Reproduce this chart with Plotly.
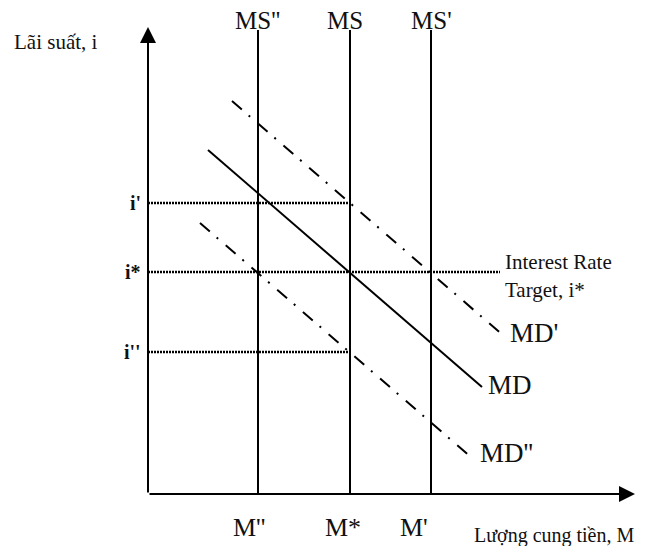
import plotly.graph_objects as go

# ---- data (diagram units) ----
ms_names = ["MS''", "MS", "MS'"]
ms_values = [11.0, 20.2, 28.3]          # money supply positions
m_labels = ["M''", "M*", "M'"]
m_label_shift = [-9, -7, -17]

rate_names = ["i'", "i*", "i''"]
rate_values = [29.1, 22.2, 14.2]
rate_line_end = [20.2, 35.2, 20.2]

md_names = ["MD'", "MD", "MD''"]
md_x = [[8.4, 35.7], [6.0, 33.4], [5.2, 32.4]]
md_y = [[39.3, 15.7], [34.4, 10.7], [27.1, 3.6]]
md_dash = ["13px,9px,2px,10px", "solid", "13px,9px,2px,10px"]
md_label_pos = [(36.0, 16.1), (33.8, 10.9), (33.0, 4.1)]

ms_top = 46.4
y_axis_top = 46.7
x_axis_end = 48.7

FONT = "Liberation Serif, Times New Roman, serif"
INK = "#111111"

fig = go.Figure()

# money supply (vertical)
for name, v in zip(ms_names, ms_values):
    fig.add_trace(go.Scatter(x=[v, v], y=[0, ms_top], mode="lines",
                             line=dict(color="black", width=2), name=name,
                             hoverinfo="skip"))

# interest rate dotted lines
for name, r, e in zip(rate_names, rate_values, rate_line_end):
    fig.add_trace(go.Scatter(x=[0, e], y=[r, r], mode="lines",
                             line=dict(color="black", width=2.5, dash="2px,1px"),
                             name=name, hoverinfo="skip"))

# money demand curves
for name, xs, ys, d in zip(md_names, md_x, md_y, md_dash):
    fig.add_trace(go.Scatter(x=xs, y=ys, mode="lines",
                             line=dict(color="black", width=2, dash=d),
                             name=name, hoverinfo="skip"))

ann = []
# axes with arrows
ann.append(dict(x=0, y=y_axis_top, ax=0, ay=0, axref="x", ayref="y",
                xref="x", yref="y", text="", showarrow=True, arrowhead=2,
                arrowwidth=2, arrowsize=1.6, arrowcolor="black", standoff=0))
ann.append(dict(x=x_axis_end, y=0, ax=0, ay=0, axref="x", ayref="y",
                xref="x", yref="y", text="", showarrow=True, arrowhead=2,
                arrowwidth=2, arrowsize=1.6, arrowcolor="black", standoff=0))

# axis titles
ann.append(dict(x=-13.6, y=45.2, text="Lãi suất, i", showarrow=False,
                xanchor="left", yanchor="middle",
                font=dict(family=FONT, size=21, color=INK)))
ann.append(dict(x=32.4, y=-4.1, text="Lượng cung tiền, M", showarrow=False,
                xanchor="left", yanchor="middle",
                font=dict(family=FONT, size=20, color=INK)))

# MS labels
for name, v, s in zip(ms_names, ms_values, [-1, -5, 0]):
    ann.append(dict(x=v, y=47.4, text=name, showarrow=False, xshift=s,
                    xanchor="center", yanchor="middle",
                    font=dict(family=FONT, size=25, color=INK)))

# M labels
for name, v, s in zip(m_labels, ms_values, m_label_shift):
    ann.append(dict(x=v, y=-3.3, text=name, showarrow=False, xshift=s,
                    xanchor="center", yanchor="middle",
                    font=dict(family=FONT, size=26, color=INK)))

# rate labels
for name, r in zip(rate_names, rate_values):
    ann.append(dict(x=-0.5, y=r, text="<b>" + name + "</b>", showarrow=False,
                    xanchor="right", yanchor="middle",
                    font=dict(family=FONT, size=20, color=INK)))

# target text
ann.append(dict(x=35.5, y=23.2, text="Interest Rate", showarrow=False,
                xanchor="left", yanchor="middle",
                font=dict(family=FONT, size=21, color=INK)))
ann.append(dict(x=35.5, y=20.4, text="Target, i*", showarrow=False,
                xanchor="left", yanchor="middle",
                font=dict(family=FONT, size=21, color=INK)))

# MD labels
for name, (lx, ly) in zip(md_names, md_label_pos):
    ann.append(dict(x=lx, y=ly, text=name, showarrow=False,
                    xanchor="left", yanchor="middle",
                    font=dict(family=FONT, size=27, color=INK)))

fig.update_layout(
    width=649, height=546, autosize=False,
    margin=dict(l=0, r=0, t=0, b=0),
    paper_bgcolor="white", plot_bgcolor="white",
    showlegend=False, hovermode=False,
    xaxis=dict(range=[-14.8, 50.1], visible=False, fixedrange=True),
    yaxis=dict(range=[-5.2, 49.4], visible=False, fixedrange=True),
    annotations=ann,
)

fig.write_html("out.html", config={"displayModeBar": False},
               post_script="document.body.style.margin='0';")
